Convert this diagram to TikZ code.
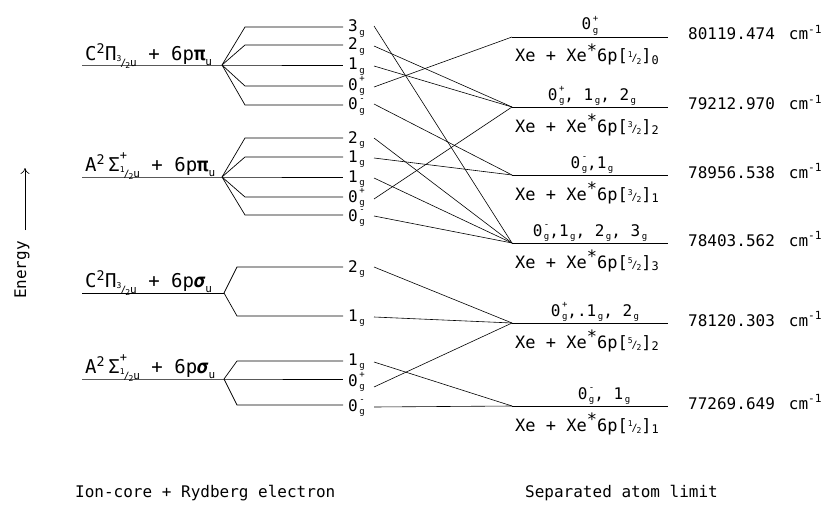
\documentclass[tikz,border=0pt]{standalone}
\usepackage{fontspec}
\setmainfont{DejaVu Sans Mono}
\usetikzlibrary{arrows.meta}
\newcommand\gS[1]{\kern1.5pt\rlap{\raisebox{0.95ex}{\fontsize{9}{9}\selectfont #1}}\raisebox{-0.45ex}{\fontsize{9}{9}\selectfont g}}
\newcommand\gX{\kern1.5pt\raisebox{-0.45ex}{\fontsize{9}{9}\selectfont g}}
\newcommand\hf[2]{\raisebox{0.45ex}{\fontsize{8}{8}\selectfont #1}\kern-1pt{\fontsize{10}{10}\selectfont/}\kern-1pt\raisebox{-0.25ex}{\fontsize{8}{8}\selectfont #2}}
\newcommand\smu{{\fontsize{11}{11}\selectfont u}}
\begin{document}
\begin{tikzpicture}[x=1pt,y=-1pt,
  lvl/.style={line width=0.7pt},
  conn/.style={line width=0.6pt},
  midlab/.style={anchor=base west, inner sep=0pt, font=\fontsize{16}{16}\selectfont},
  grplab/.style={anchor=base west, inner sep=0pt, font=\fontsize{19}{19}\selectfont},
  toplab/.style={anchor=base, inner sep=0pt, font=\fontsize{16}{16}\selectfont},
  xelab/.style={anchor=base west, inner sep=0pt, font=\fontsize{17}{17}\selectfont},
  vallab/.style={anchor=base west, inner sep=0pt, font=\fontsize{16}{16}\selectfont},
  footlab/.style={anchor=base west, inner sep=0pt, font=\fontsize{16}{16}\selectfont}]
\useasboundingbox (0,0) rectangle (830,519);

% ---------- Energy axis ----------
\node[rotate=90, inner sep=0pt, font=\fontsize{16}{16}\selectfont] (energy) at (22,270) {Energy};
\coordinate (ena) at (25,230);
\coordinate (enb) at (25,168);
\draw[line width=0.6pt, -{To[length=6pt,width=9pt]}] (ena) -- (enb);

% ---------- Left groups ----------
% C Pi 6p pi
\coordinate (j1) at (222,65);
\draw[lvl] (82,65) -- (j1) -- (343,65);
\draw[lvl] (j1) -- (245,27) -- (343,27);
\draw[lvl] (j1) -- (245,45) -- (343,45);
\draw[lvl] (j1) -- (245,86) -- (343,86);
\draw[lvl] (j1) -- (245,105) -- (343,105);
\node[grplab] (g1) at (85,60) {C\textsuperscript{2}Π\raisebox{-0.6ex}{\hf{3}{2}\smu} + 6p\textbf{π}\raisebox{-0.5ex}{\smu}};

% A Sigma 6p pi
\coordinate (j2) at (222,177);
\draw[lvl] (82,177) -- (j2) -- (343,177);
\draw[lvl] (j2) -- (245,138) -- (343,138);
\draw[lvl] (j2) -- (245,157) -- (343,157);
\draw[lvl] (j2) -- (245,197) -- (343,197);
\draw[lvl] (j2) -- (245,215) -- (343,215);
\node[grplab] (g2) at (85,171) {A\textsuperscript{2}\,Σ\rlap{\raisebox{1.1ex}{\fontsize{12}{12}\selectfont +}}\raisebox{-0.6ex}{\hf{1}{2}\smu} + 6p\textbf{π}\raisebox{-0.5ex}{\smu}};

% C Pi 6p sigma
\coordinate (j3) at (224,293);
\draw[lvl] (82,293) -- (j3);
\draw[lvl] (j3) -- (237,267) -- (343,267);
\draw[lvl] (j3) -- (237,316) -- (343,316);
\node[grplab] (g3) at (85,287) {C\textsuperscript{2}Π\raisebox{-0.6ex}{\hf{3}{2}\smu} + 6p\textbf{\textit{σ}}\raisebox{-0.5ex}{\smu}};

% A Sigma 6p sigma
\coordinate (j4) at (224,379);
\draw[lvl] (82,379) -- (j4) -- (343,379);
\draw[lvl] (j4) -- (237,361) -- (343,361);
\draw[lvl] (j4) -- (237,405) -- (343,405);
\node[grplab] (g4) at (85,373) {A\textsuperscript{2}\,Σ\rlap{\raisebox{1.1ex}{\fontsize{12}{12}\selectfont +}}\raisebox{-0.6ex}{\hf{1}{2}\smu} + 6p\textbf{\textit{σ}}\raisebox{-0.5ex}{\smu}};

% ---------- Middle labels ----------
\node[midlab] (cp3)  at (348,32)  {3\gX};
\node[midlab] (cp2)  at (348,50)  {2\gX};
\node[midlab] (cp1)  at (348,70)  {1\gX};
\node[midlab] (cp0p) at (348,90)  {0\gS{+}};
\node[midlab] (cp0m) at (348,110) {0\gS{-}};
\node[midlab] (ap2)  at (348,143) {2\gX};
\node[midlab] (ap1a) at (348,162) {1\gX};
\node[midlab] (ap1b) at (348,182) {1\gX};
\node[midlab] (ap0p) at (348,202) {0\gS{+}};
\node[midlab] (ap0m) at (348,221) {0\gS{-}};
\node[midlab] (cs2)  at (348,272) {2\gX};
\node[midlab] (cs1)  at (348,321) {1\gX};
\node[midlab] (as1)  at (348,365) {1\gX};
\node[midlab] (as0p) at (348,386) {0\gS{+}};
\node[midlab] (as0m) at (348,411) {0\gS{-}};

% connector start points
\coordinate (scp3)  at (374,26);
\coordinate (scp2)  at (374,46);
\coordinate (scp1)  at (374,66);
\coordinate (scp0p) at (374,87);
\coordinate (scp0m) at (374,104);
\coordinate (sap2)  at (374,138);
\coordinate (sap1a) at (374,158);
\coordinate (sap1b) at (374,178);
\coordinate (sap0p) at (374,199);
\coordinate (sap0m) at (374,216);
\coordinate (scs2)  at (374,267);
\coordinate (scs1)  at (374,317);
\coordinate (sas1)  at (374,362);
\coordinate (sas0p) at (374,387);
\coordinate (sas0m) at (374,407);

% ---------- Right levels ----------
\coordinate (r1) at (512,37);   \coordinate (r1e) at (668,37);
\coordinate (r2) at (512,107);  \coordinate (r2e) at (668,107);
\coordinate (r3) at (512,175);  \coordinate (r3e) at (668,175);
\coordinate (r4) at (512,243);  \coordinate (r4e) at (668,243);
\coordinate (r5) at (512,323);  \coordinate (r5e) at (668,323);
\coordinate (r6) at (512,406);  \coordinate (r6e) at (668,406);
\foreach \r in {1,...,6} {\draw[lvl] (r\r) -- (r\r e);}

% ---------- Connectors ----------
\draw[conn] (scp3) -- (r4);
\draw[conn] (scp2) -- (r2);
\draw[conn] (scp1) -- (r2);
\draw[conn] (scp0p) -- (r1);
\draw[conn] (scp0m) -- (r3);
\draw[conn] (sap2) -- (r4);
\draw[conn] (sap1a) -- (r3);
\draw[conn] (sap1b) -- (r4);
\draw[conn] (sap0p) -- (r2);
\draw[conn] (sap0m) -- (r4);
\draw[conn] (scs2) -- (r5);
\draw[conn] (scs1) -- (r5);
\draw[conn] (sas1) -- (r6);
\draw[conn] (sas0p) -- (r5);
\draw[conn] (sas0m) -- (r6);

% ---------- Right labels ----------
\node[toplab] (t1) at (590,30)  {0\gS{+}};
\node[toplab] (t2) at (592,100) {0\gS{+}, 1\gX, 2\gX};
\node[toplab] (t3) at (592,168) {0\gS{-},1\gX};
\node[toplab] (t4) at (590,236) {0\gS{-},1\gX, 2\gX, 3\gX};
\node[toplab] (t5) at (595,316) {0\gS{+},.1\gX, 2\gX};
\node[toplab] (t6) at (604,399) {0\gS{-}, 1\gX};

\node[xelab] (x1) at (515,62)  {Xe + Xe\raisebox{0.6ex}{*}6p[\hf{1}{2}]\textsubscript{0}};
\node[xelab] (x2) at (515,132) {Xe + Xe\raisebox{0.6ex}{*}6p[\hf{3}{2}]\textsubscript{2}};
\node[xelab] (x3) at (515,200) {Xe + Xe\raisebox{0.6ex}{*}6p[\hf{3}{2}]\textsubscript{1}};
\node[xelab] (x4) at (515,268) {Xe + Xe\raisebox{0.6ex}{*}6p[\hf{5}{2}]\textsubscript{3}};
\node[xelab] (x5) at (515,348) {Xe + Xe\raisebox{0.6ex}{*}6p[\hf{5}{2}]\textsubscript{2}};
\node[xelab] (x6) at (515,431) {Xe + Xe\raisebox{0.6ex}{*}6p[\hf{1}{2}]\textsubscript{1}};

\node[vallab] (v1) at (688,40)  {80119.474\hspace{14pt}cm\textsuperscript{-1}};
\node[vallab] (v2) at (688,110) {79212.970\hspace{14pt}cm\textsuperscript{-1}};
\node[vallab] (v3) at (688,178) {78956.538\hspace{14pt}cm\textsuperscript{-1}};
\node[vallab] (v4) at (688,246) {78403.562\hspace{14pt}cm\textsuperscript{-1}};
\node[vallab] (v5) at (688,326) {78120.303\hspace{14pt}cm\textsuperscript{-1}};
\node[vallab] (v6) at (688,409) {77269.649\hspace{14pt}cm\textsuperscript{-1}};

% ---------- Footer ----------
\node[footlab] (f1) at (75,497)  {Ion-core + Rydberg electron};
\node[footlab] (f2) at (525,497) {Separated atom limit};
\end{tikzpicture}
\end{document}
